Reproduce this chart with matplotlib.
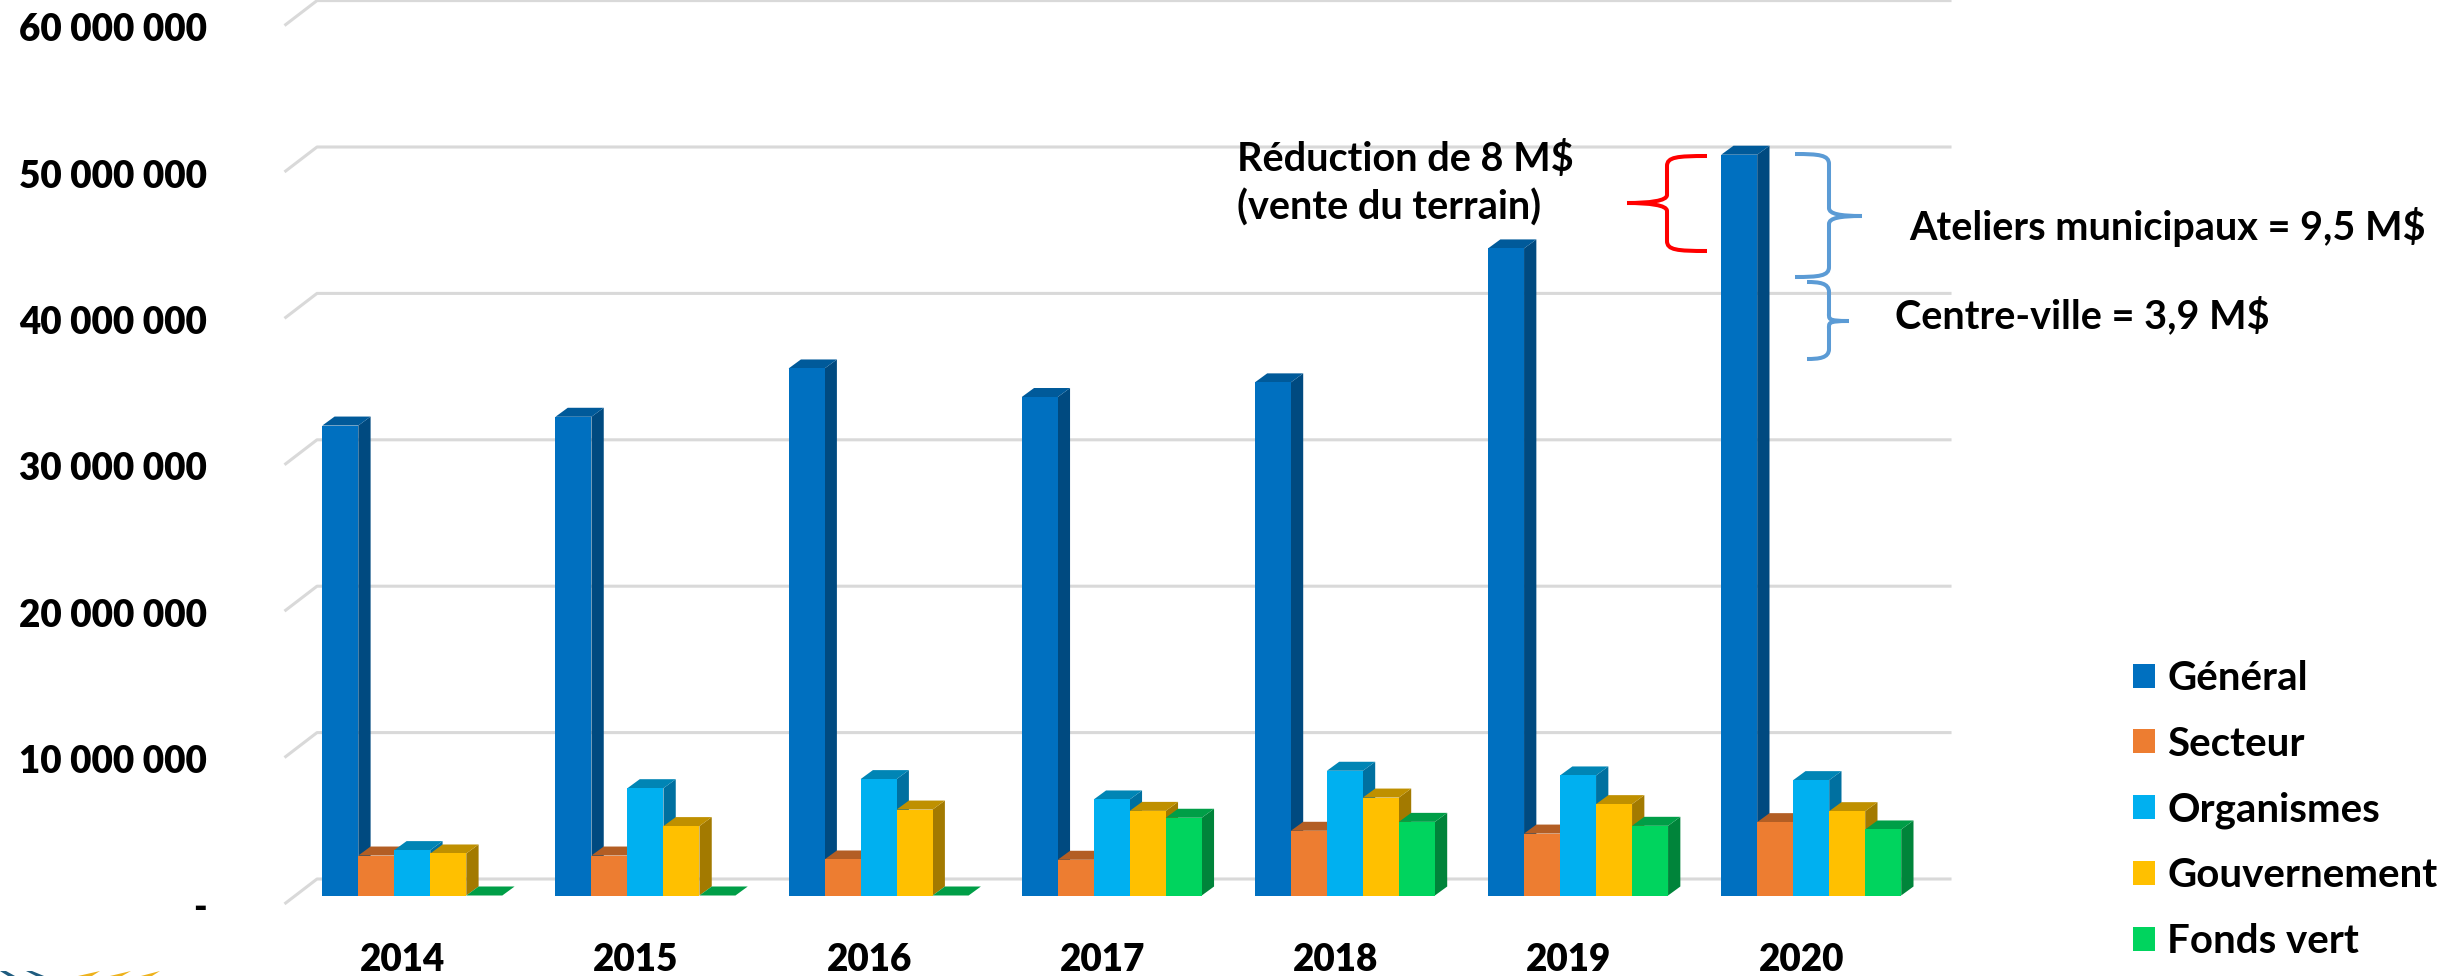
import matplotlib
matplotlib.use("Agg")
import matplotlib.pyplot as plt
from matplotlib.patches import Patch, PathPatch, Polygon
from matplotlib.path import Path
from matplotlib.transforms import Affine2D, ScaledTranslation

plt.rcParams['font.family'] = ['Lato', 'DejaVu Sans']
plt.rcParams['font.weight'] = 'bold'

years = ['2014', '2015', '2016', '2017', '2018', '2019', '2020']
general = [32.1e6, 32.7e6, 36.0e6, 34.05e6, 35.05e6, 44.2e6, 50.6e6]
secteur = [2.73e6, 2.73e6, 2.46e6, 2.44e6, 4.42e6, 4.23e6, 5.01e6]
organismes = [3.10e6, 7.33e6, 7.95e6, 6.56e6, 8.52e6, 8.20e6, 7.88e6]
gouvernement = [2.87e6, 4.74e6, 5.87e6, 5.78e6, 6.69e6, 6.24e6, 5.76e6]
fonds_vert = [0, 0, 0, 5.31e6, 5.03e6, 4.76e6, 4.51e6]

series_names = ['Général', 'Secteur', 'Organismes', 'Gouvernement', 'Fonds vert']
series_values = [general, secteur, organismes, gouvernement, fonds_vert]
front_colors = ['#0070C0', '#ED7D31', '#00B0F0', '#FFC000', '#00D45E']
top_colors = ['#005A9A', '#B35E24', '#0085B5', '#BF9000', '#009E47']
side_colors = ['#004A80', '#9A4F1E', '#0070A0', '#A37A00', '#00843A']

y_ticks = [0, 10e6, 20e6, 30e6, 40e6, 50e6, 60e6]
y_labels = ['-', '10 000 000', '20 000 000', '30 000 000', '40 000 000', '50 000 000', '60 000 000']

W, H = 2450, 976
BASE_Y = 895.5
GROUP_STEP = 233.15
FIRST_CENTER = 412.3
VAL_PER_PX = 1e7 / 146.4
CAT_PER_PX = 1 / GROUP_STEP
BAR_W = 36 * CAT_PER_PX
DEPTH_X = 12.3 * CAT_PER_PX
DEPTH_Y = 9 * VAL_PER_PX

fig = plt.figure(figsize=(W / 100, H / 100), dpi=100)
left, right = 210, 1960
ax = fig.add_axes([left / W, 1 - BASE_Y / H, (right - left) / W, BASE_Y / H])
ax.set_xlim((left - FIRST_CENTER) * CAT_PER_PX, (right - FIRST_CENTER) * CAT_PER_PX)
ax.set_ylim(0, BASE_Y * VAL_PER_PX)
for s in ax.spines.values():
    s.set_visible(False)

# px helper for everything that isn't data
px = Affine2D().scale(1 / W, -1 / H).translate(0, 1) + fig.transFigure

# back wall gridlines + floor diagonals
wall_x0 = (285.7 - FIRST_CENTER) * CAT_PER_PX
wall_x1 = (317 - FIRST_CENTER) * CAT_PER_PX
wall_x2 = (1950 - FIRST_CENTER) * CAT_PER_PX
for v in y_ticks:
    ax.plot([wall_x0, wall_x1, wall_x2],
            [v - 7.5 * VAL_PER_PX, v + 16.5 * VAL_PER_PX, v + 16.5 * VAL_PER_PX],
            color='#D9D9D9', lw=2.2, clip_on=False, zorder=1, solid_joinstyle='round')

# fake 3D bars, left to right so the next front hides the previous side
z = 2
for g in range(len(years)):
    for k, vals in enumerate(series_values):
        v = vals[g]
        x0 = g + (k - 2.5) * BAR_W
        x1 = x0 + BAR_W
        ax.fill([x1, x1 + DEPTH_X, x1 + DEPTH_X, x1], [0, DEPTH_Y, v + DEPTH_Y, v],
                color=side_colors[k], lw=0, zorder=z)
        ax.fill([x0, x1, x1 + DEPTH_X, x0 + DEPTH_X], [v, v, v + DEPTH_Y, v + DEPTH_Y],
                color=top_colors[k], lw=0, zorder=z + 0.1)
        ax.bar(g + (k - 2) * BAR_W, v, width=BAR_W, color=front_colors[k], lw=0, zorder=z + 0.2)
        z += 1

ax.set_yticks(y_ticks, y_labels, fontsize=26.5, color='black', fontweight='heavy')
ax.set_xticks(range(len(years)), years, fontsize=26.5, color='black', fontweight='heavy')
ax.tick_params(axis='y', length=0, pad=2.5)
ax.tick_params(axis='x', length=0, pad=34)
for lab in ax.get_yticklabels():
    lab.set_transform(lab.get_transform() + ScaledTranslation(0, -10 / 100, fig.dpi_scale_trans))
for lab in ax.get_xticklabels():
    lab.set_transform(lab.get_transform() + ScaledTranslation(-9.5 / 100, 0, fig.dpi_scale_trans))

handles = [Patch(color=c, lw=0) for c in front_colors]
fig.legend(handles, series_names, loc='upper left', bbox_to_anchor=(2133 / W, 1 - 660 / H),
           frameon=False, fontsize=29, borderpad=0, borderaxespad=0,
           handlelength=0.55, handleheight=0.55, handletextpad=0.3, labelspacing=0.71)


def brace(x_end, x_spine, x_tip, y0, y1, ym, color):
    d = 1 if x_end > x_spine else -1
    # two halves meeting at the tip, so the tip stays blunt
    c = [(x_end, y0),
         (x_spine + d * 10, y0), (x_spine, y0 + 1), (x_spine, y0 + 10),
         (x_spine, ym - 8),
         (x_spine, ym - 2), (x_tip + d * 22, ym), (x_tip, ym),
         (x_tip, ym),
         (x_tip + d * 22, ym), (x_spine, ym + 2), (x_spine, ym + 8),
         (x_spine, y1 - 10),
         (x_spine, y1 - 1), (x_spine + d * 10, y1), (x_end, y1)]
    codes = [Path.MOVETO, Path.CURVE4, Path.CURVE4, Path.CURVE4, Path.LINETO,
             Path.CURVE4, Path.CURVE4, Path.CURVE4,
             Path.MOVETO, Path.CURVE4, Path.CURVE4, Path.CURVE4, Path.LINETO,
             Path.CURVE4, Path.CURVE4, Path.CURVE4]
    fig.add_artist(PathPatch(Path(c, codes), fc='none', ec=color, lw=2.9, transform=px,
                             joinstyle='round', capstyle='butt'))


brace(1707, 1667, 1627, 156, 251, 203, '#FF0000')
brace(1795, 1829, 1862, 154, 277, 216, '#5B9BD5')
brace(1807, 1829, 1849, 282, 359, 321, '#5B9BD5')

fig.text(1237 / W, 1 - 159 / H, 'Réduction de 8 M$', fontsize=28.5, va='center', color='black')
fig.text(1237 / W, 1 - 208 / H, '(vente du terrain)', fontsize=28.5, va='center', color='black')
fig.text(1909 / W, 1 - 227 / H, 'Ateliers municipaux = 9,5 M$', fontsize=28.5, va='center', color='black')
fig.text(1895 / W, 1 - 316 / H, 'Centre-ville = 3,9 M$', fontsize=28.5, va='center', color='black')

# bits of a logo cut off at the bottom left
for pts, c in [([(0, 971), (6, 971), (15, 976), (8, 976)], '#1F5C7F'),
               ([(26, 971), (32, 971), (44, 976), (36, 976)], '#1F5C7F'),
               ([(78, 976), (100, 971), (92, 976)], '#EDB21C'),
               ([(110, 976), (131, 971), (122, 976)], '#EDB21C'),
               ([(141, 976), (160, 971), (152, 976)], '#EDB21C')]:
    fig.add_artist(Polygon(pts, closed=True, fc=c, ec='none', transform=px))

fig.savefig('out.png', dpi=100)
